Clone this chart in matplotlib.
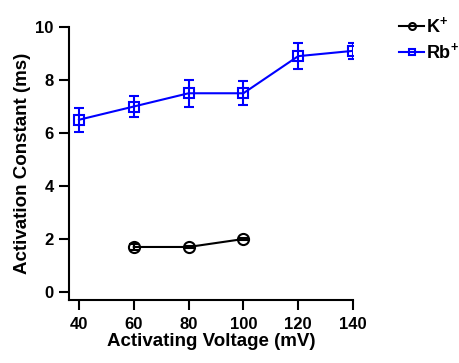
import numpy as np
import matplotlib.pyplot as plt
from matplotlib.lines import Line2D

plt.rcParams['font.family'] = ['Liberation Sans', 'DejaVu Sans']
plt.rcParams['font.weight'] = 'bold'
plt.rcParams['mathtext.fontset'] = 'custom'
plt.rcParams['mathtext.bf'] = 'Liberation Sans:bold'
plt.rcParams['mathtext.rm'] = 'Liberation Sans:bold'

# data
k_voltage = [60, 80, 100]
k_tau = [1.7, 1.7, 2.0]
k_err = [0.1, 0.05, 0.05]

rb_voltage = [40, 60, 80, 100, 120, 140]
rb_tau = [6.5, 7.0, 7.5, 7.5, 8.9, 9.1]
rb_err = [0.45, 0.4, 0.5, 0.45, 0.5, 0.3]

x_ticks = [40, 60, 80, 100, 120, 140]
y_ticks = [0, 2, 4, 6, 8, 10]

blue = '#0000ff'

fig = plt.figure(figsize=(4.59, 3.63), dpi=100)
ax = fig.add_axes([0.150, 0.1736, 0.619, 0.752])

ax.errorbar(k_voltage, k_tau, yerr=k_err, color='black', marker='o',
            markersize=8, markerfacecolor='none', markeredgewidth=1.5,
            linewidth=1.5, capsize=3.5, elinewidth=1.5, capthick=1.5)
ax.errorbar(rb_voltage, rb_tau, yerr=rb_err, color=blue, marker='s',
            markersize=7.5, markerfacecolor='none', markeredgewidth=1.5,
            linewidth=1.5, capsize=3.5, elinewidth=1.5, capthick=1.5)

ax.set_xlim(36.3, 140)
ax.set_ylim(-0.3, 10)
ax.set_xticks(x_ticks)
ax.set_yticks(y_ticks)
ax.spines['top'].set_visible(False)
ax.spines['right'].set_visible(False)
ax.spines['left'].set_linewidth(1.5)
ax.spines['bottom'].set_linewidth(1.5)
ax.tick_params(width=1.5, length=7, labelsize=12)
ax.tick_params(axis='x', pad=5)
ax.tick_params(axis='y', pad=4)
ax.set_xlabel('Activating Voltage (mV)', fontsize=13.5, fontweight='bold', labelpad=1)
ax.set_ylabel('Activation Constant (ms)', fontsize=13.5, fontweight='bold', labelpad=3)

handles = [
    Line2D([], [], color='black', marker='o', markersize=5, markerfacecolor='none',
           markeredgewidth=1.5, linewidth=1.5),
    Line2D([], [], color=blue, marker='s', markersize=4.5, markerfacecolor='none',
           markeredgewidth=1.5, linewidth=1.5),
]
ax.legend(handles, [r'K$^{+}$', r'Rb$^{+}$'], loc='upper left',
          bbox_to_anchor=(1.105, 1.10), frameon=False, fontsize=13,
          handlelength=1.4, handletextpad=0.1, labelspacing=0.35)

fig.savefig('out.png', dpi=100)
